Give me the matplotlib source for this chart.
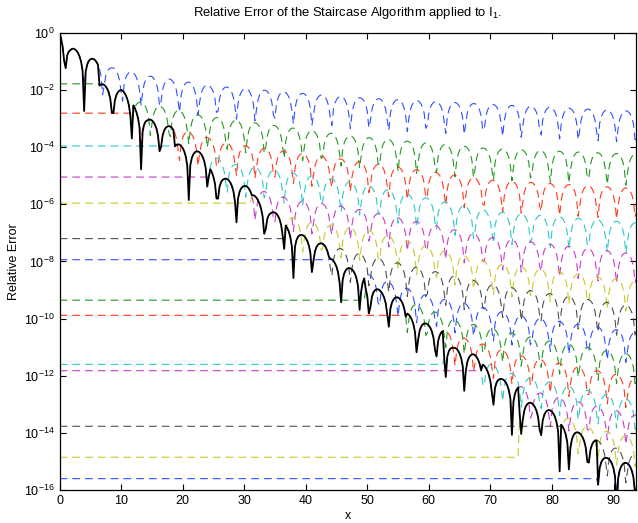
import numpy as np
import matplotlib.pyplot as plt
from matplotlib.ticker import NullLocator

plt.rcParams['font.family'] = ['Liberation Sans', 'DejaVu Sans']
plt.rcParams['mathtext.default'] = 'regular'

# matlab colour order b g r c m y k, repeated over the 15 curves
colors = ['#2f4fff', '#219a21', '#ff3a1c', '#2ec8c8', '#c83cc8', '#c8c82e', '#505050']

# x where each curve leaves its flat start level
x_switch = [0.0, 6.3, 11.9, 18.7, 24.3, 31.2, 36.6, 44.0, 49.6, 56.3, 62.5, 68.7, 74.7, 81.5, 87.3]
# flat start level of each curve (the first curve has none)
flat_level = [None, 1.65e-2, 1.55e-3, 1.1e-4, 9e-6, 1.1e-6, 6.3e-8, 1.15e-8,
              4.4e-10, 1.3e-10, 2.5e-12, 1.5e-12, 1.4e-15, 1.7e-14, 2.5e-16]

# zeros of the oscillation: first one and spacing, even curves shifted by half a step
dip_first = 0.9
dip_step = 3.09
dip_shift = [0, .5, 0, .5, 0, .5, 0, .5, 0, .5, 0, .5, 0, .5, 0]

# arch tops of each curve, (x, -log10 of error)
env01 = [(0, -0.1), (1.7, 0.48), (5.2, 0.88), (8.2, 1.2), (14.4, 1.5), (24.7, 1.85), (47, 2.25), (70, 2.5), (94, 2.75)]
env02 = [(6.3, 1.75), (10.1, 2.0), (12.8, 2.4), (22.5, 2.87), (47, 3.6), (70, 4.05), (94, 4.25)]
env03 = [(11.9, 2.5), (14.3, 3.0), (17.6, 3.25), (27, 3.85), (47, 4.45), (70, 5.15), (94, 5.45)]
env04 = [(18.7, 3.85), (22.5, 4.15), (28.5, 4.6), (47, 5.2), (70, 6.25), (94, 6.65)]
env05 = [(24.3, 4.7), (26.8, 5.08), (30.1, 5.35), (38, 5.85), (47, 6.1), (70, 7.15), (94, 7.75)]
env06 = [(31.2, 5.6), (34.4, 6.25), (40, 6.6), (50, 6.9), (70, 8.05), (94, 8.7)]
env07 = [(36.6, 6.7), (39.3, 7.06), (42.3, 7.35), (50, 7.8), (70, 8.8), (94, 9.6)]
env08 = [(44, 7.9), (47.1, 8.23), (52, 8.6), (60, 9.2), (75, 9.9), (94, 10.5)]
env09 = [(49.6, 8.7), (52.3, 9.04), (55.2, 9.28), (65, 10.1), (80, 10.8), (94, 11.3)]
env10 = [(56.3, 9.8), (59.3, 10.15), (66, 10.7), (75, 11.3), (94, 12.1)]
env11 = [(62.5, 10.7), (63.9, 11.0), (67.4, 11.26), (73, 11.9), (94, 12.9)]
env12 = [(68.7, 11.6), (71.7, 12.1), (77, 12.55), (94, 13.4)]
env13 = [(74.7, 12.8), (76.6, 12.95), (79.6, 13.2), (86, 13.8), (94, 14.2)]
env14 = [(81.5, 13.7), (84.4, 14.0), (90, 14.5), (94, 14.8)]
env15 = [(87.3, 14.7), (88.8, 14.87), (92, 15.05), (94, 15.15)]
envelopes = [env01, env02, env03, env04, env05, env06, env07, env08,
             env09, env10, env11, env12, env13, env14, env15]

x = np.arange(0, 94.01, 0.25)


def curve(k, floor):
    ex, ed = zip(*envelopes[k])
    top = 10.0 ** (-np.interp(x, ex, ed))
    dip = dip_first + dip_shift[k] * dip_step
    arch = np.abs(np.sin(np.pi * (x - dip) / dip_step))
    y = top * np.maximum(arch, floor)
    if flat_level[k] is not None:
        y = np.where(x < x_switch[k], flat_level[k], y)
    return y


fig = plt.figure(figsize=(6.38, 5.23), dpi=100)
ax = fig.add_axes([0.0933, 0.0631, 0.904, 0.874])

n = len(x_switch)
for k in range(n):
    ax.plot(x, curve(k, 0.08), color=colors[k % 7], lw=0.8, ls=(0, (7, 4.5)))

# the staircase: each curve used from its switch to the next one
best = curve(0, 0.006)
for k in range(1, n):
    best = np.where(x >= x_switch[k], curve(k, 0.006), best)
ax.plot(x, best, color='black', lw=1.3)

ax.set_yscale('log')
ax.set_xlim(0, 93.7)
ax.set_ylim(1e-16, 1)
ax.set_xticks(range(0, 100, 10))
ax.set_yticks([10.0 ** e for e in range(-16, 1, 2)])
ax.yaxis.set_minor_locator(NullLocator())
ax.tick_params(direction='in', top=True, right=True, length=4, labelsize=9)
for s in ax.spines.values():
    s.set_linewidth(0.9)

ax.set_title('Relative Error of the Staircase Algorithm applied to I$_1$.', fontsize=9.4, pad=12)
ax.set_xlabel('x', fontsize=9, labelpad=2)
ax.set_ylabel('Relative Error', fontsize=9, labelpad=3)

fig.savefig('out.png', dpi=100)
